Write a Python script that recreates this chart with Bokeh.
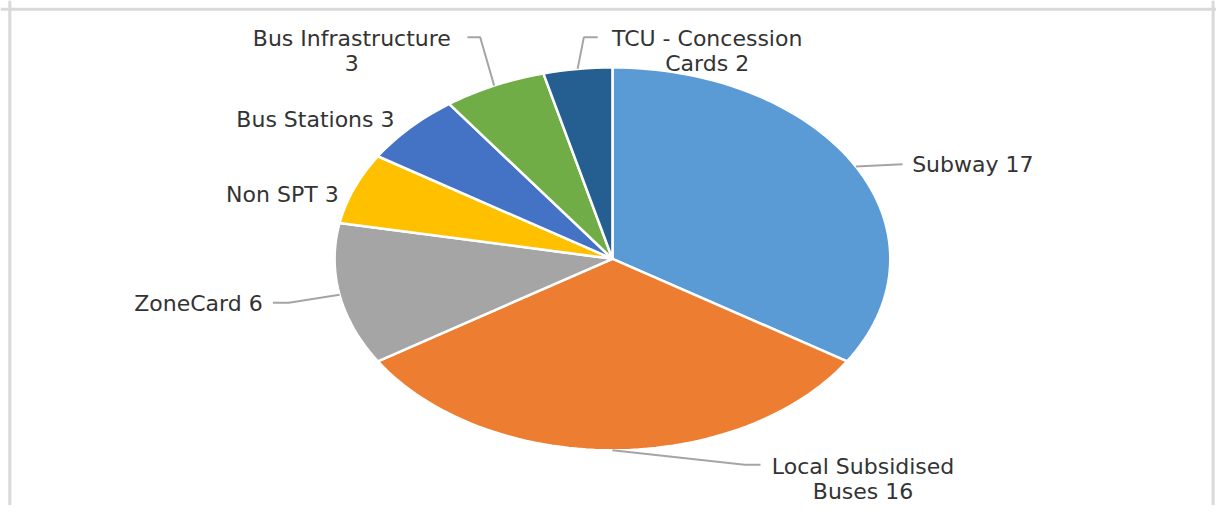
import math
from bokeh.plotting import figure
from bokeh.models import Range1d, Span, ColumnDataSource
from bokeh.core.properties import value
from bokeh.embed import file_html
from bokeh.resources import INLINE

# ---- data ----
categories = ["Subway", "Local Subsidised Buses", "ZoneCard", "Non SPT",
              "Bus Stations", "Bus Infrastructure", "TCU - Concession Cards"]
values = [17, 16, 6, 3, 3, 3, 2]
label_lines = [["Subway 17"], ["Local Subsidised", "Buses 16"], ["ZoneCard 6"],
               ["Non SPT 3"], ["Bus Stations 3"], ["Bus Infrastructure", "3"],
               ["TCU - Concession", "Cards 2"]]
colors = ["#5B9BD5", "#ED7D31", "#A5A5A5", "#FFC000", "#4472C4", "#70AD47", "#255E91"]

# ---- layout (data units, pie = unit circle) ----
label_pos = [(1.297, 0.494), (0.902, -1.086), (-1.490, -0.235), (-1.188, 0.337),
             (-1.069, 0.727), (-0.938, 1.153), (0.341, 1.153)]
line_gap = 0.132
leader_pts = {0: [(1.044, 0.494)],
              1: [(0.476, -1.076), (0.533, -1.076)],
              2: [(-1.165, -0.230), (-1.222, -0.230)],
              5: [(-0.476, 1.157), (-0.522, 1.157)],
              6: [(-0.103, 1.157), (-0.053, 1.157)]}

total = float(sum(values))
xs, ys, mids = [], [], []
acc = 0.0
for v in values:
    a0 = acc / total * 2 * math.pi
    a1 = (acc + v) / total * 2 * math.pi
    n = max(8, int(200 * v / total))
    px = [0.0]
    py = [0.0]
    for i in range(n + 1):
        t = a0 + (a1 - a0) * i / n
        px.append(math.sin(t))
        py.append(math.cos(t))
    xs.append(px)
    ys.append(py)
    mids.append((a0 + a1) / 2)
    acc += v

p = figure(width=1216, height=505, output_backend="svg", toolbar_location=None,
           x_range=Range1d(-2.2025, 2.1741), y_range=Range1d(-1.2886, 1.3494),
           min_border=0, outline_line_color=None)
p.axis.visible = False
p.grid.visible = False
p.background_fill_color = "white"
p.border_fill_color = "white"

# chart-area frame (left, right, top)
for loc, dim in [(-2.169, "height"), (2.162, "height"), (1.304, "width")]:
    p.add_layout(Span(location=loc, dimension=dim, line_color="#D9D9D9", line_width=3))

p.patches(xs=xs, ys=ys, fill_color=colors, line_color="white", line_width=2.5)

# leader lines
for idx, pts in leader_pts.items():
    m = mids[idx]
    lx = [math.sin(m)] + [q[0] for q in pts]
    ly = [math.cos(m)] + [q[1] for q in pts]
    p.line(lx, ly, line_color="#A5A5A5", line_width=2)

# labels
tx, ty, tt = [], [], []
for (x0, y0), lines in zip(label_pos, label_lines):
    for j, s in enumerate(lines):
        tx.append(x0)
        ty.append(y0 - j * line_gap)
        tt.append(s)
src = ColumnDataSource(dict(x=tx, y=ty, text=tt))
p.text(x="x", y="y", text="text", source=src, text_align="center",
       text_baseline="alphabetic", text_font=value("DejaVu Sans"),
       text_font_size="22px", text_color="#333333")

open("out.html", "w").write(file_html(p, INLINE))
